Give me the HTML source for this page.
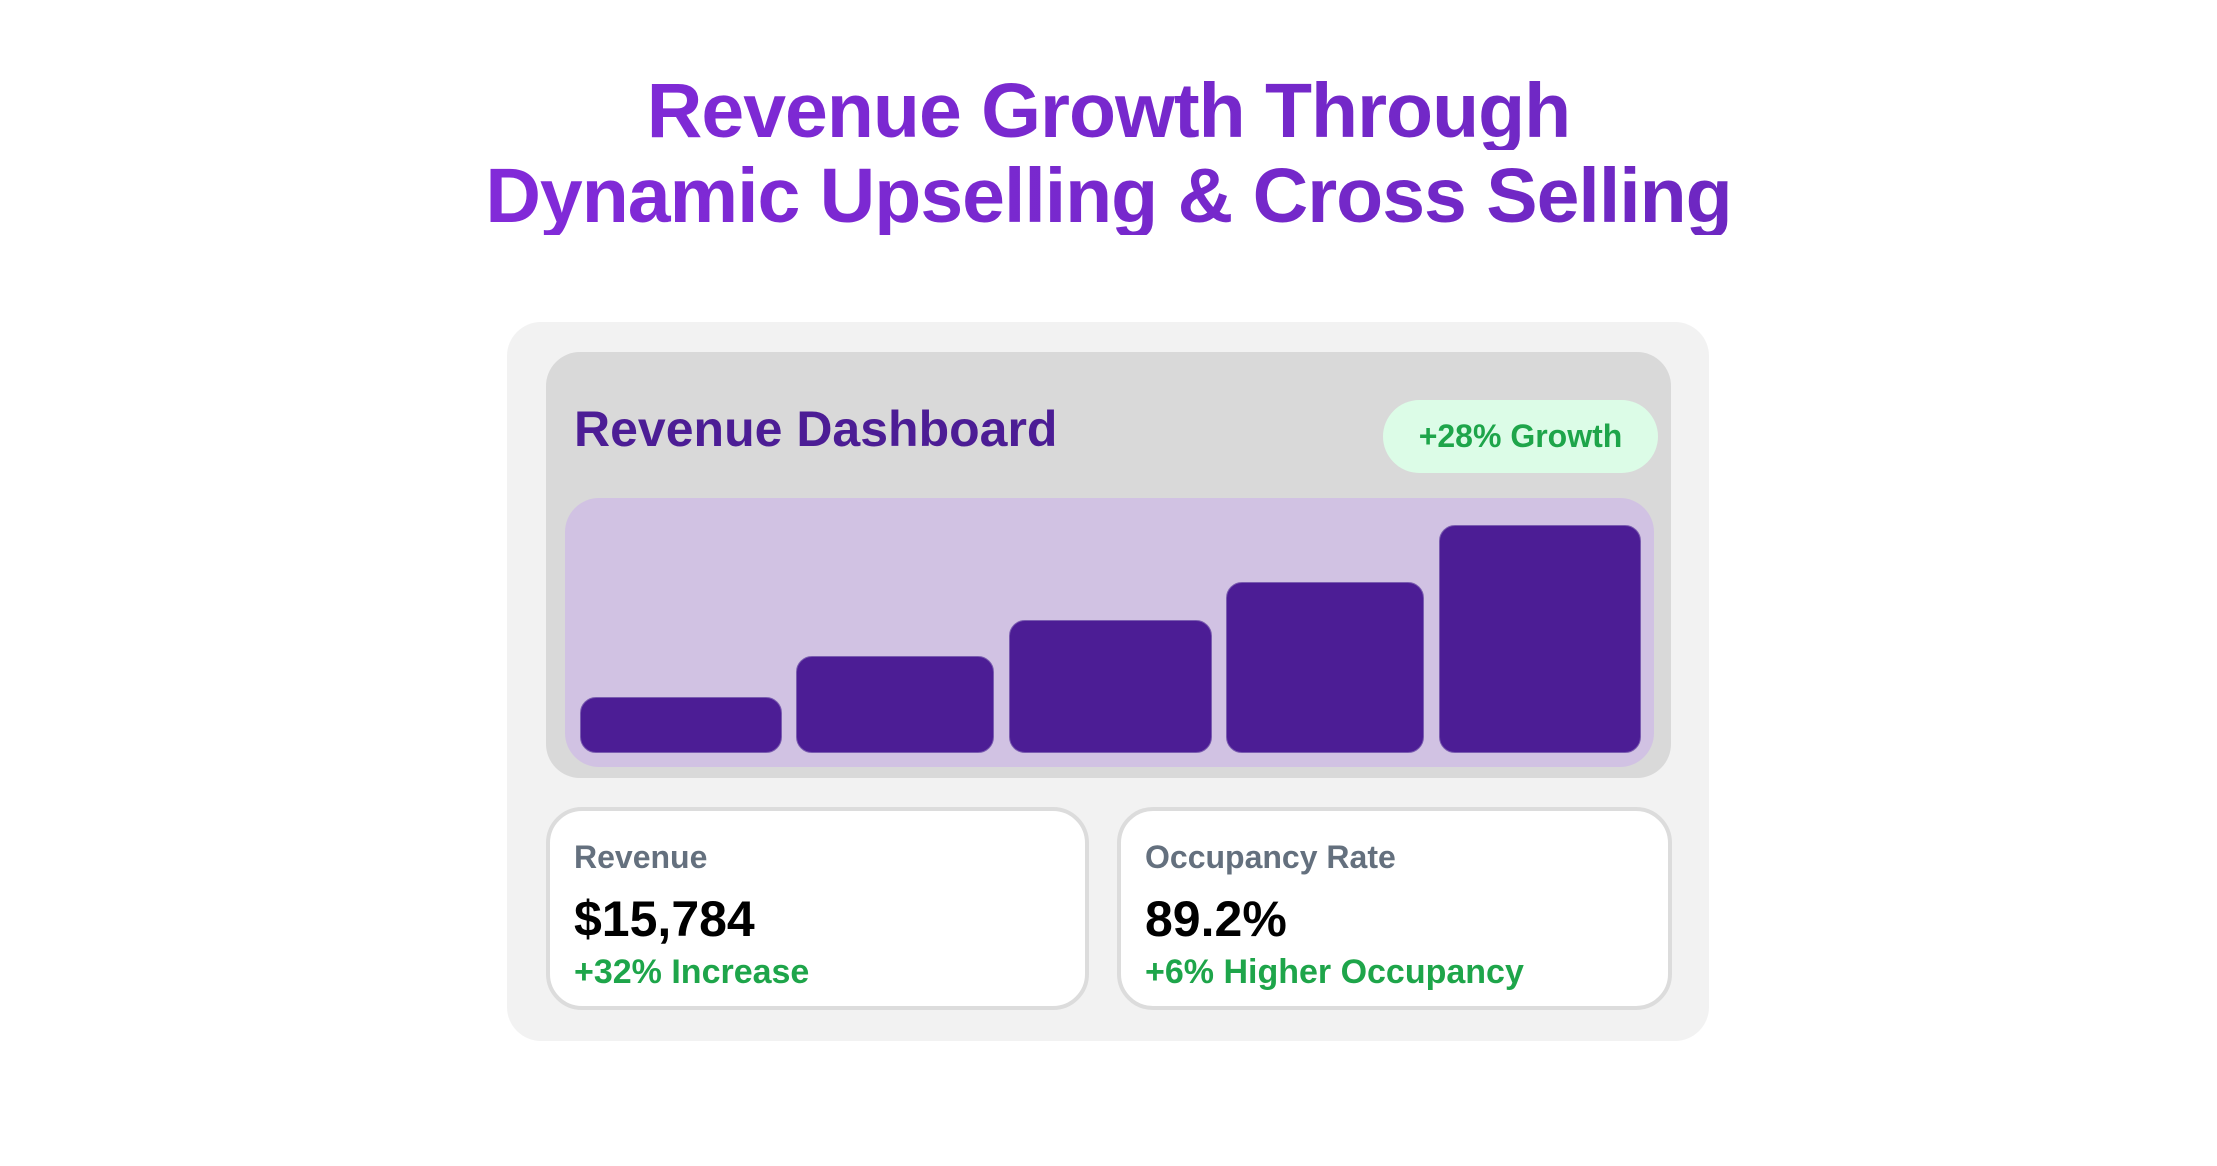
<!DOCTYPE html>
<html><head><meta charset="utf-8"><style>
*{margin:0;padding:0;box-sizing:border-box}
body{width:2217px;height:1166px;background:#fff;position:relative;overflow:hidden;font-family:"Liberation Sans",sans-serif}
.a{position:absolute}
.t{left:0;width:2217px;text-align:center;font-weight:bold;font-size:77px;line-height:1;letter-spacing:-1px;background:linear-gradient(90deg,#8a2be2,#6526b8);-webkit-background-clip:text;background-clip:text;color:transparent}
.bar{position:absolute;background:#4c1d95;border-radius:16px;border:1px solid #7a5cb0;bottom:14px}
.card{position:absolute;background:#fff;border:4px solid #dcdcdc;border-radius:36px;top:807px;height:203px}
.lab{position:absolute;left:24px;top:28px;font-size:32px;font-weight:bold;color:#64707e}
.val{position:absolute;left:24px;top:79px;font-size:50px;font-weight:bold;color:#000}
.sub{position:absolute;left:24px;top:142px;font-size:34px;font-weight:bold;color:#1ea54a}
</style></head><body>
<div class="a t" style="top:73px">Revenue Growth Through</div>
<div class="a t" style="top:158px">Dynamic Upselling &amp; Cross Selling</div>
<div class="a" style="left:507px;top:322px;width:1202px;height:719px;background:#f2f2f2;border-radius:34px"></div>
<div class="a" style="left:546px;top:352px;width:1125px;height:426px;background:#d9d9d9;border-radius:34px"></div>
<div class="a" style="left:574px;top:400px;font-size:50px;font-weight:bold;color:#4c1d95">Revenue Dashboard</div>
<div class="a" style="left:1383px;top:400px;width:275px;height:73px;background:#dcfce7;border-radius:37px;color:#1ea54a;font-size:32px;font-weight:bold;text-align:center;line-height:73px">+28% Growth</div>
<div class="a" style="left:565px;top:498px;width:1089px;height:269px;background:#d1c2e3;border-radius:34px">
<div class="bar" style="left:15px;width:202px;height:56px"></div>
<div class="bar" style="left:231px;width:198px;height:97px"></div>
<div class="bar" style="left:444px;width:203px;height:133px"></div>
<div class="bar" style="left:661px;width:198px;height:171px"></div>
<div class="bar" style="left:874px;width:202px;height:228px"></div>
</div>
<div class="card" style="left:546px;width:543px"><div class="lab">Revenue</div><div class="val">$15,784</div><div class="sub">+32% Increase</div></div>
<div class="card" style="left:1117px;width:555px"><div class="lab">Occupancy Rate</div><div class="val">89.2%</div><div class="sub">+6% Higher Occupancy</div></div>
</body></html>
